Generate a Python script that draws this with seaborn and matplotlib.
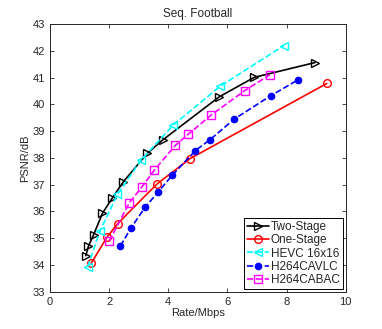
import matplotlib
matplotlib.use("Agg")
import matplotlib.pyplot as plt
import seaborn as sns
import pandas as pd

# RD curves, Seq. Football
two_rate = [1.21, 1.30, 1.47, 1.77, 2.11, 2.48, 3.29, 3.81, 5.72, 6.91, 8.96]
two_psnr = [34.35, 34.71, 35.12, 35.93, 36.51, 37.11, 38.17, 38.67, 40.28, 41.01, 41.56]

one_rate = [1.39, 1.92, 2.29, 3.61, 4.73, 9.36]
one_psnr = [34.06, 35.03, 35.55, 37.02, 37.97, 40.78]

hevc_rate = [1.27, 1.69, 2.28, 3.08, 4.17, 5.76, 7.90]
hevc_psnr = [33.93, 35.27, 36.64, 37.92, 39.23, 40.68, 42.19]

cavlc_rate = [2.38, 2.73, 3.21, 3.65, 4.13, 4.91, 5.40, 6.23, 7.46, 8.38]
cavlc_psnr = [34.71, 35.37, 36.15, 36.72, 37.35, 38.27, 38.67, 39.45, 40.32, 40.91]

cabac_rate = [2.00, 2.68, 3.11, 3.53, 4.24, 4.67, 5.46, 6.58, 7.44]
cabac_psnr = [34.89, 36.32, 36.92, 37.55, 38.47, 38.88, 39.61, 40.51, 41.11]

series = [
    ("Two-Stage", two_rate, two_psnr, "black", ">", "-", False),
    ("One-Stage", one_rate, one_psnr, "red", "o", "-", False),
    ("HEVC 16x16", hevc_rate, hevc_psnr, "cyan", "<", "--", False),
    ("H264CAVLC", cavlc_rate, cavlc_psnr, "blue", "o", "--", True),
    ("H264CABAC", cabac_rate, cabac_psnr, "magenta", "s", "--", False),
]

sns.set_style("ticks")
plt.rcParams["font.family"] = ["Liberation Sans", "DejaVu Sans"]

fig = plt.figure(figsize=(3.82, 3.29), dpi=100)
ax = fig.add_axes([0.131, 0.113, 0.774, 0.814])

for name, rate, psnr, color, mk, ls, filled in series:
    df = pd.DataFrame({"rate": rate, "psnr": psnr})
    sns.lineplot(
        data=df, x="rate", y="psnr", ax=ax, sort=False, color=color,
        linestyle=ls, linewidth=1.2, marker=mk,
        markersize=4.5 if filled else 5.5,
        markerfacecolor=color if filled else "none",
        markeredgecolor=color, markeredgewidth=1.0, label=name,
    )

ax.set_xlim(0, 10)
ax.set_ylim(33, 43)
ax.set_xticks(range(0, 11, 2))
ax.set_yticks(range(33, 44))
ax.tick_params(direction="in", top=True, right=True, labelsize=8, length=3, width=0.6)
for s in ax.spines.values():
    s.set_visible(True)
    s.set_linewidth(0.7)
ax.set_xlabel("Rate/Mbps", fontsize=8, labelpad=1)
ax.set_ylabel("PSNR/dB", fontsize=8, labelpad=2)
ax.set_title("Seq. Football", fontsize=8.5, pad=5)

leg = ax.legend(loc="lower right", fontsize=8.5, frameon=True, fancybox=False,
                edgecolor="black", framealpha=1, borderpad=0.25, labelspacing=0.1,
                handlelength=1.8, handletextpad=0.2, borderaxespad=0.25)
leg.get_frame().set_linewidth(0.7)

fig.savefig("out.png", dpi=100)
